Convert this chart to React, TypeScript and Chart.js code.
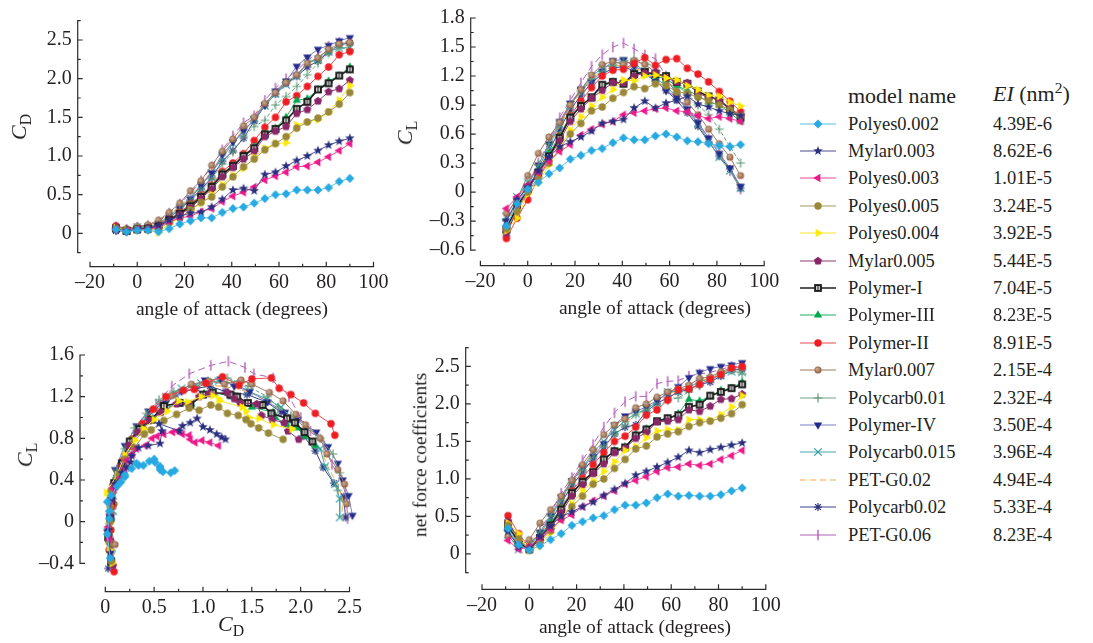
import React, { useEffect, useRef } from "react";
import { Chart, registerables } from "chart.js";

Chart.register(...registerables);

const SERIF = '"Liberation Serif", "Times New Roman", serif';
const INK = "#231F20";

// ---------------- data ----------------
const ANGLES = [-9, -4.5, 0, 4.5, 9, 13.5, 18, 22.5, 27, 31.5, 36, 40.5, 45, 49.5, 54, 58.5, 63, 67.5, 72, 76.5, 81, 85.5, 90];

const ANGLE_TICKS = [-20, 0, 20, 40, 60, 80, 100];
const CD_TICKS = [0, 0.5, 1, 1.5, 2, 2.5];
const CL_TICKS = [-0.6, -0.3, 0, 0.3, 0.6, 0.9, 1.2, 1.5, 1.8];
const POLAR_CL_TICKS = [-0.4, 0, 0.4, 0.8, 1.2, 1.6];
const POLAR_CD_TICKS = [0, 0.5, 1, 1.5, 2, 2.5];
const NET_TICKS = [0, 0.5, 1, 1.5, 2, 2.5];

const MODEL_NAMES = ["Polyes0.002", "Mylar0.003", "Polyes0.003", "Polyes0.005", "Polyes0.004", "Mylar0.005", "Polymer-I", "Polymer-III", "Polymer-II", "Mylar0.007", "Polycarb0.01", "Polymer-IV", "Polycarb0.015", "PET-G0.02", "Polycarb0.02", "PET-G0.06"];
const EI_VALUES = ["4.39E-6", "8.62E-6", "1.01E-5", "3.24E-5", "3.92E-5", "5.44E-5", "7.04E-5", "8.23E-5", "8.91E-5", "2.15E-4", "2.32E-4", "3.50E-4", "3.96E-4", "4.94E-4", "5.33E-4", "8.23E-4"];

const CD_POLYES_0002 = [0.05, 0.02, 0.04, 0.04, 0.02, 0.06, 0.12, 0.16, 0.2, 0.2, 0.27, 0.32, 0.34, 0.39, 0.45, 0.5, 0.51, 0.56, 0.56, 0.56, 0.59, 0.67, 0.71];
const CL_POLYES_0002 = [-0.35, -0.12, 0.03, 0.1, 0.19, 0.25, 0.34, 0.38, 0.43, 0.45, 0.51, 0.56, 0.54, 0.54, 0.58, 0.6, 0.57, 0.53, 0.52, 0.5, 0.48, 0.47, 0.49];
const NET_POLYES_0002 = [0.34, 0.12, 0.05, 0.11, 0.19, 0.27, 0.38, 0.43, 0.48, 0.51, 0.59, 0.65, 0.65, 0.68, 0.75, 0.8, 0.77, 0.78, 0.77, 0.77, 0.79, 0.84, 0.88];

const CD_MYLAR_0003 = [0.05, 0.03, 0.05, 0.06, 0.1, 0.17, 0.22, 0.26, 0.27, 0.34, 0.44, 0.56, 0.58, 0.55, 0.76, 0.79, 0.87, 0.94, 1.0, 1.07, 1.14, 1.19, 1.23];
const CL_MYLAR_0003 = [-0.3, -0.08, 0.05, 0.22, 0.36, 0.47, 0.52, 0.57, 0.63, 0.71, 0.73, 0.75, 0.87, 0.94, 0.87, 0.92, 0.95, 0.99, 0.91, 0.88, 0.84, 0.81, 0.79];
const NET_MYLAR_0003 = [0.3, 0.09, 0.07, 0.23, 0.37, 0.5, 0.56, 0.63, 0.69, 0.78, 0.86, 0.94, 1.05, 1.1, 1.16, 1.22, 1.29, 1.38, 1.35, 1.39, 1.42, 1.45, 1.48];

const CD_POLYES_0003 = [0.04, 0.03, 0.05, 0.05, 0.08, 0.15, 0.2, 0.22, 0.28, 0.32, 0.41, 0.48, 0.53, 0.6, 0.69, 0.74, 0.79, 0.86, 0.87, 0.92, 0.99, 1.07, 1.16];
const CL_POLYES_0003 = [-0.17, -0.05, 0.07, 0.2, 0.32, 0.42, 0.49, 0.59, 0.65, 0.7, 0.73, 0.8, 0.82, 0.84, 0.86, 0.87, 0.84, 0.83, 0.79, 0.76, 0.78, 0.76, 0.73];
const NET_POLYES_0003 = [0.18, 0.06, 0.09, 0.21, 0.33, 0.45, 0.52, 0.63, 0.71, 0.77, 0.84, 0.93, 0.98, 1.03, 1.1, 1.15, 1.16, 1.2, 1.18, 1.2, 1.26, 1.31, 1.38];

const CD_POLYES_0005 = [0.06, 0.04, 0.05, 0.05, 0.06, 0.14, 0.2, 0.3, 0.4, 0.47, 0.6, 0.73, 0.86, 0.96, 1.08, 1.16, 1.25, 1.36, 1.44, 1.49, 1.57, 1.67, 1.82];
const CL_POLYES_0005 = [-0.38, -0.2, 0.0, 0.15, 0.3, 0.45, 0.6, 0.71, 0.84, 0.88, 0.97, 1.03, 1.09, 1.07, 1.12, 1.1, 1.04, 1.02, 0.98, 0.94, 0.9, 0.85, 0.79];
const NET_POLYES_0005 = [0.38, 0.2, 0.05, 0.16, 0.31, 0.47, 0.63, 0.77, 0.93, 1.0, 1.14, 1.26, 1.4, 1.44, 1.56, 1.6, 1.63, 1.7, 1.75, 1.77, 1.81, 1.87, 1.99];

const CD_POLYES_0004 = [0.07, 0.04, 0.04, 0.04, 0.01, 0.12, 0.2, 0.3, 0.39, 0.5, 0.63, 0.75, 0.84, 0.98, 1.1, 1.16, 1.17, 1.4, 1.44, 1.47, 1.57, 1.72, 1.91];
const CL_POLYES_0004 = [-0.4, -0.27, -0.02, 0.1, 0.28, 0.45, 0.64, 0.78, 0.89, 0.98, 1.06, 1.16, 1.15, 1.2, 1.21, 1.18, 1.16, 1.1, 1.06, 1.0, 0.99, 0.93, 0.89];
const NET_POLYES_0004 = [0.41, 0.27, 0.04, 0.11, 0.28, 0.47, 0.67, 0.84, 0.97, 1.1, 1.23, 1.38, 1.43, 1.55, 1.64, 1.66, 1.65, 1.79, 1.79, 1.78, 1.86, 1.96, 2.11];

const CD_MYLAR_0005 = [0.08, 0.05, 0.05, 0.06, 0.08, 0.16, 0.24, 0.33, 0.45, 0.57, 0.73, 0.85, 0.96, 1.06, 1.25, 1.32, 1.38, 1.55, 1.6, 1.71, 1.83, 1.87, 1.98];
const CL_MYLAR_0005 = [-0.42, -0.18, 0.02, 0.2, 0.35, 0.53, 0.73, 0.86, 0.97, 1.05, 1.13, 1.13, 1.2, 1.23, 1.24, 1.18, 1.14, 1.13, 1.02, 0.98, 0.95, 0.87, 0.79];
const NET_MYLAR_0005 = [0.43, 0.19, 0.05, 0.21, 0.36, 0.55, 0.77, 0.92, 1.07, 1.2, 1.35, 1.41, 1.54, 1.62, 1.76, 1.77, 1.79, 1.92, 1.9, 1.97, 2.06, 2.07, 2.13];

const CD_POLYMER_I = [0.06, 0.03, 0.05, 0.06, 0.09, 0.17, 0.25, 0.35, 0.47, 0.6, 0.76, 0.87, 1.0, 1.1, 1.28, 1.35, 1.46, 1.61, 1.7, 1.86, 1.94, 2.04, 2.12];
const CL_POLYMER_I = [-0.38, -0.15, 0.03, 0.2, 0.37, 0.56, 0.77, 0.89, 0.98, 1.11, 1.14, 1.12, 1.22, 1.24, 1.22, 1.2, 1.14, 1.12, 1.04, 0.99, 0.95, 0.86, 0.77];
const NET_POLYMER_I = [0.38, 0.15, 0.06, 0.21, 0.38, 0.59, 0.81, 0.96, 1.09, 1.26, 1.37, 1.42, 1.58, 1.66, 1.77, 1.81, 1.85, 1.96, 1.99, 2.11, 2.16, 2.21, 2.26];

const CD_POLYMER_III = [0.06, 0.04, 0.06, 0.06, 0.1, 0.18, 0.26, 0.37, 0.48, 0.61, 0.78, 0.88, 1.01, 1.12, 1.29, 1.36, 1.5, 1.72, 1.74, 1.86, 1.97, 2.04, 2.15];
const CL_POLYMER_III = [-0.4, -0.17, 0.03, 0.22, 0.4, 0.58, 0.78, 0.9, 0.97, 1.09, 1.14, 1.13, 1.23, 1.24, 1.2, 1.17, 1.1, 1.05, 1.0, 0.93, 0.9, 0.82, 0.73];
const NET_POLYMER_III = [0.4, 0.17, 0.07, 0.23, 0.41, 0.61, 0.82, 0.97, 1.08, 1.25, 1.38, 1.43, 1.59, 1.67, 1.76, 1.8, 1.87, 2.06, 2.04, 2.1, 2.18, 2.21, 2.29];

const CD_POLYMER_II = [0.09, 0.04, 0.05, 0.07, 0.1, 0.18, 0.27, 0.38, 0.49, 0.62, 0.8, 0.91, 1.03, 1.2, 1.37, 1.5, 1.7, 1.78, 1.9, 2.03, 2.15, 2.31, 2.35];
const CL_POLYMER_II = [-0.48, -0.27, -0.08, 0.15, 0.33, 0.58, 0.79, 0.94, 1.08, 1.2, 1.26, 1.27, 1.33, 1.39, 1.31, 1.37, 1.38, 1.28, 1.22, 1.14, 1.04, 0.94, 0.83];
const NET_POLYMER_II = [0.51, 0.27, 0.09, 0.17, 0.34, 0.61, 0.84, 1.01, 1.19, 1.35, 1.5, 1.57, 1.69, 1.85, 1.92, 2.05, 2.19, 2.2, 2.26, 2.33, 2.39, 2.48, 2.5];

const CD_MYLAR_0007 = [0.1, 0.06, 0.09, 0.11, 0.17, 0.27, 0.39, 0.55, 0.68, 0.88, 1.06, 1.22, 1.39, 1.5, 1.68, 1.82, 1.95, 2.05, 2.2, 2.27, 2.38, 2.45, 2.47];
const CL_MYLAR_0007 = [-0.22, -0.08, 0.17, 0.4, 0.57, 0.72, 0.9, 1.06, 1.21, 1.32, 1.35, 1.32, 1.36, 1.32, 1.24, 1.16, 1.03, 0.93, 0.8, 0.65, 0.5, 0.36, 0.17];
const NET_MYLAR_0007 = [0.24, 0.1, 0.19, 0.41, 0.59, 0.77, 0.98, 1.19, 1.39, 1.59, 1.72, 1.8, 1.95, 2.0, 2.09, 2.16, 2.2, 2.25, 2.34, 2.36, 2.43, 2.48, 2.48];

const CD_POLYCARB_001 = [0.06, 0.04, 0.07, 0.08, 0.12, 0.2, 0.3, 0.42, 0.55, 0.7, 0.9, 1.05, 1.25, 1.38, 1.46, 1.66, 1.77, 1.9, 2.05, 2.2, 2.33, 2.4, 2.38];
const CL_POLYCARB_001 = [-0.3, -0.1, 0.08, 0.28, 0.5, 0.7, 0.9, 1.04, 1.17, 1.25, 1.3, 1.35, 1.38, 1.33, 1.3, 1.2, 1.1, 1.02, 0.9, 0.8, 0.65, 0.47, 0.3];
const NET_POLYCARB_001 = [0.31, 0.11, 0.11, 0.29, 0.51, 0.73, 0.95, 1.12, 1.29, 1.43, 1.58, 1.71, 1.86, 1.92, 1.96, 2.05, 2.08, 2.16, 2.24, 2.34, 2.42, 2.45, 2.4];

const CD_POLYMER_IV = [0.05, 0.02, 0.05, 0.07, 0.1, 0.2, 0.32, 0.44, 0.62, 0.78, 1.02, 1.18, 1.32, 1.48, 1.66, 1.84, 1.97, 2.16, 2.28, 2.38, 2.43, 2.49, 2.53];
const CL_POLYMER_IV = [-0.3, -0.1, 0.06, 0.28, 0.5, 0.73, 0.92, 1.06, 1.14, 1.25, 1.36, 1.37, 1.3, 1.25, 1.15, 1.05, 0.98, 0.86, 0.72, 0.56, 0.4, 0.25, 0.06];
const NET_POLYMER_IV = [0.3, 0.1, 0.08, 0.29, 0.51, 0.76, 0.97, 1.15, 1.3, 1.47, 1.72, 1.84, 1.9, 1.96, 2.05, 2.14, 2.23, 2.35, 2.42, 2.47, 2.5, 2.52, 2.55];

const CD_POLYCARB_0015 = [0.07, 0.04, 0.08, 0.08, 0.12, 0.22, 0.33, 0.46, 0.62, 0.78, 0.98, 1.16, 1.32, 1.47, 1.65, 1.8, 1.92, 2.03, 2.2, 2.25, 2.35, 2.4, 2.4];
const CL_POLYCARB_0015 = [-0.25, -0.05, 0.1, 0.25, 0.47, 0.7, 0.9, 1.05, 1.2, 1.28, 1.33, 1.35, 1.33, 1.25, 1.18, 1.1, 0.98, 0.85, 0.7, 0.53, 0.36, 0.22, 0.04];
const NET_POLYCARB_0015 = [0.26, 0.06, 0.13, 0.26, 0.49, 0.73, 0.96, 1.15, 1.35, 1.5, 1.65, 1.78, 1.87, 1.93, 2.03, 2.16, 2.17, 2.22, 2.3, 2.33, 2.38, 2.43, 2.42];

const CD_PETG_002 = [0.08, 0.05, 0.06, 0.08, 0.13, 0.23, 0.35, 0.47, 0.63, 0.8, 1.0, 1.18, 1.34, 1.48, 1.66, 1.83, 1.95, 2.05, 2.2, 2.28, 2.36, 2.43, 2.42];
const CL_PETG_002 = [-0.33, -0.12, 0.05, 0.24, 0.45, 0.68, 0.88, 1.03, 1.16, 1.27, 1.32, 1.3, 1.28, 1.24, 1.16, 1.08, 0.97, 0.84, 0.7, 0.53, 0.38, 0.23, 0.02];
const NET_PETG_002 = [0.34, 0.13, 0.08, 0.25, 0.47, 0.72, 0.95, 1.13, 1.32, 1.5, 1.66, 1.76, 1.85, 1.93, 2.03, 2.13, 2.18, 2.22, 2.31, 2.34, 2.39, 2.44, 2.42];

const CD_POLYCARB_002 = [0.03, 0.03, 0.06, 0.07, 0.11, 0.2, 0.31, 0.43, 0.57, 0.72, 0.93, 1.07, 1.23, 1.45, 1.65, 1.8, 1.94, 2.03, 2.15, 2.23, 2.34, 2.44, 2.46];
const CL_POLYCARB_002 = [-0.45, -0.17, 0.03, 0.22, 0.42, 0.65, 0.85, 1.0, 1.13, 1.22, 1.28, 1.3, 1.25, 1.22, 1.15, 1.05, 0.95, 0.82, 0.68, 0.52, 0.37, 0.24, 0.04];
const NET_POLYCARB_002 = [0.45, 0.17, 0.07, 0.23, 0.43, 0.68, 0.91, 1.09, 1.27, 1.42, 1.6, 1.69, 1.72, 1.9, 2.01, 2.08, 2.16, 2.19, 2.26, 2.29, 2.37, 2.45, 2.46];

const CD_PETG_006 = [0.08, 0.05, 0.08, 0.1, 0.15, 0.26, 0.38, 0.52, 0.68, 0.86, 1.08, 1.26, 1.43, 1.52, 1.72, 1.88, 2.0, 2.1, 2.24, 2.32, 2.42, 2.47, 2.48];
const CL_PETG_006 = [-0.35, -0.12, 0.08, 0.3, 0.52, 0.77, 0.95, 1.13, 1.3, 1.42, 1.5, 1.54, 1.48, 1.42, 1.38, 1.2, 1.0, 0.87, 0.73, 0.55, 0.4, 0.22, 0.03];
const NET_PETG_006 = [0.36, 0.13, 0.11, 0.32, 0.54, 0.81, 1.02, 1.25, 1.46, 1.69, 1.88, 2.03, 2.1, 2.1, 2.27, 2.3, 2.31, 2.37, 2.4, 2.42, 2.46, 2.5, 2.5];

const CD_SERIES = [CD_POLYES_0002, CD_MYLAR_0003, CD_POLYES_0003, CD_POLYES_0005, CD_POLYES_0004, CD_MYLAR_0005, CD_POLYMER_I, CD_POLYMER_III, CD_POLYMER_II, CD_MYLAR_0007, CD_POLYCARB_001, CD_POLYMER_IV, CD_POLYCARB_0015, CD_PETG_002, CD_POLYCARB_002, CD_PETG_006];
const CL_SERIES = [CL_POLYES_0002, CL_MYLAR_0003, CL_POLYES_0003, CL_POLYES_0005, CL_POLYES_0004, CL_MYLAR_0005, CL_POLYMER_I, CL_POLYMER_III, CL_POLYMER_II, CL_MYLAR_0007, CL_POLYCARB_001, CL_POLYMER_IV, CL_POLYCARB_0015, CL_PETG_002, CL_POLYCARB_002, CL_PETG_006];
const NET_SERIES = [NET_POLYES_0002, NET_MYLAR_0003, NET_POLYES_0003, NET_POLYES_0005, NET_POLYES_0004, NET_MYLAR_0005, NET_POLYMER_I, NET_POLYMER_III, NET_POLYMER_II, NET_MYLAR_0007, NET_POLYCARB_001, NET_POLYMER_IV, NET_POLYCARB_0015, NET_PETG_002, NET_POLYCARB_002, NET_PETG_006];

// ---------------- styles ----------------
type Style = { marker: string; fill: string; line: string; dash: number[]; legendDash: boolean; width?: number };
const STYLES: Style[] = [
  { marker: "diamond", fill: "#27A9E1", line: "#5BC0EB", dash: [], legendDash: false },
  { marker: "star", fill: "#2B2F7F", line: "#4A4D8F", dash: [], legendDash: false },
  { marker: "triL", fill: "#EC198B", line: "#EF4A9B", dash: [], legendDash: false },
  { marker: "circle", fill: "#9A8838", line: "#A89A5A", dash: [], legendDash: false },
  { marker: "triR", fill: "#FFEA00", line: "#F8E530", dash: [], legendDash: false },
  { marker: "pentagon", fill: "#8A2768", line: "#8F3A72", dash: [], legendDash: false },
  { marker: "squareI", fill: "#1E1E1E", line: "#1E1E1E", dash: [], legendDash: false, width: 1.6 },
  { marker: "triU", fill: "#00A650", line: "#21B062", dash: [], legendDash: false },
  { marker: "circle", fill: "#EE1D24", line: "#F0474C", dash: [], legendDash: false },
  { marker: "ball", fill: "#8A5A3B", line: "#A07860", dash: [], legendDash: false },
  { marker: "plus", fill: "#5A9A74", line: "#6FA386", dash: [4, 2], legendDash: false },
  { marker: "triD", fill: "#252C8C", line: "#7B7EC6", dash: [], legendDash: false },
  { marker: "cross", fill: "#2A9C9A", line: "#45A8A6", dash: [], legendDash: false },
  { marker: "none", fill: "#F7A94B", line: "#F7A94B", dash: [6, 3], legendDash: true },
  { marker: "asterisk", fill: "#2D2F7D", line: "#3E4089", dash: [], legendDash: false },
  { marker: "bar", fill: "#B260B6", line: "#B260B6", dash: [7, 4], legendDash: false },
];

function drawMarker(ctx: CanvasRenderingContext2D, type: string, color: string, cx: number, cy: number) {
  const r = 3.7;
  ctx.save();
  ctx.fillStyle = color;
  ctx.strokeStyle = color;
  ctx.lineWidth = 1.2;
  const poly = (angles: number[], R: number) => {
    ctx.beginPath();
    angles.forEach((a, i) => {
      const t = (a * Math.PI) / 180;
      const x = cx + R * Math.cos(t);
      const y = cy + R * Math.sin(t);
      if (i === 0) ctx.moveTo(x, y);
      else ctx.lineTo(x, y);
    });
    ctx.closePath();
    ctx.fill();
  };
  switch (type) {
    case "diamond":
      poly([-90, 0, 90, 180], r * 1.2);
      break;
    case "star": {
      ctx.beginPath();
      for (let i = 0; i < 10; i++) {
        const R = i % 2 === 0 ? r * 1.35 : r * 0.55;
        const t = ((-90 + i * 36) * Math.PI) / 180;
        const x = cx + R * Math.cos(t);
        const y = cy + R * Math.sin(t);
        if (i === 0) ctx.moveTo(x, y);
        else ctx.lineTo(x, y);
      }
      ctx.closePath();
      ctx.fill();
      break;
    }
    case "triU":
      poly([-90, 30, 150], r * 1.3);
      break;
    case "triD":
      poly([90, 210, 330], r * 1.3);
      break;
    case "triL":
      poly([180, 300, 60], r * 1.3);
      break;
    case "triR":
      poly([0, 120, 240], r * 1.3);
      break;
    case "pentagon":
      poly([-90, -18, 54, 126, 198], r * 1.15);
      break;
    case "circle":
      ctx.beginPath();
      ctx.arc(cx, cy, r, 0, Math.PI * 2);
      ctx.fill();
      break;
    case "ball": {
      const g = ctx.createRadialGradient(cx - 1, cy - 1, 0.5, cx, cy, r);
      g.addColorStop(0, "#C9A88E");
      g.addColorStop(1, color);
      ctx.fillStyle = g;
      ctx.beginPath();
      ctx.arc(cx, cy, r * 0.95, 0, Math.PI * 2);
      ctx.fill();
      break;
    }
    case "squareI": {
      const s = r * 1.05;
      ctx.fillRect(cx - s, cy - s, 2 * s, 2 * s);
      ctx.fillStyle = "#D8D8D8";
      ctx.fillRect(cx - s * 0.5, cy - s * 0.5, s, s);
      ctx.fillStyle = color;
      ctx.fillRect(cx - 0.5, cy - s * 0.5, 1, s);
      break;
    }
    case "plus":
      ctx.beginPath();
      ctx.moveTo(cx - r * 1.2, cy);
      ctx.lineTo(cx + r * 1.2, cy);
      ctx.moveTo(cx, cy - r * 1.2);
      ctx.lineTo(cx, cy + r * 1.2);
      ctx.stroke();
      break;
    case "cross":
      ctx.beginPath();
      ctx.moveTo(cx - r, cy - r);
      ctx.lineTo(cx + r, cy + r);
      ctx.moveTo(cx + r, cy - r);
      ctx.lineTo(cx - r, cy + r);
      ctx.stroke();
      break;
    case "asterisk":
      ctx.beginPath();
      for (let i = 0; i < 4; i++) {
        const t = (i * 45 * Math.PI) / 180;
        ctx.moveTo(cx - r * 1.1 * Math.cos(t), cy - r * 1.1 * Math.sin(t));
        ctx.lineTo(cx + r * 1.1 * Math.cos(t), cy + r * 1.1 * Math.sin(t));
      }
      ctx.stroke();
      break;
    case "bar":
      ctx.lineWidth = 1.4;
      ctx.beginPath();
      ctx.moveTo(cx, cy - r * 1.4);
      ctx.lineTo(cx, cy + r * 1.4);
      ctx.stroke();
      break;
    default:
      break;
  }
  ctx.restore();
}

let markerCache: (HTMLCanvasElement | null)[] | null = null;
function getMarkers() {
  if (markerCache) return markerCache;
  markerCache = STYLES.map((st) => {
    if (st.marker === "none") return null;
    const c = document.createElement("canvas");
    c.width = 14;
    c.height = 14;
    const ctx = c.getContext("2d")!;
    drawMarker(ctx, st.marker, st.fill, 7, 7);
    return c;
  });
  return markerCache;
}

// ---------------- layout of the four panels ----------------
type Panel = {
  box: [number, number, number, number];
  xs: number[][] | null; // null => angles
  ys: number[][];
  xCal: [number, number, number, number];
  yCal: [number, number, number, number];
  area: [number, number, number, number]; // l, r, t, b (page px)
  xAxis: [number, number, number];
  yAxis: [number, number, number];
  xTicks: number[];
  yTicks: number[];
  xDec: boolean;
};

const PANELS: Panel[] = [
  {
    box: [0, 0, 400, 330], xs: null, ys: CD_SERIES,
    xCal: [-20, 90, 100, 373.5], yCal: [0, 233.3, 2.5, 40],
    area: [77.7, 373.5, 20.7, 266.7], xAxis: [-20, 100, 10], yAxis: [-0.25, 2.75, 0.25],
    xTicks: ANGLE_TICKS, yTicks: CD_TICKS, xDec: false,
  },
  {
    box: [400, 0, 390, 330], xs: null, ys: CL_SERIES,
    xCal: [-20, 480.4, 100, 764.2], yCal: [-0.6, 250, 1.8, 16.7],
    area: [470.7, 764.2, 16.7, 265.7], xAxis: [-20, 100, 10], yAxis: [-0.6, 1.8, 0.15],
    xTicks: ANGLE_TICKS, yTicks: CL_TICKS, xDec: false,
  },
  {
    box: [0, 330, 400, 313], xs: CD_SERIES, ys: CL_SERIES,
    xCal: [0, 105.3, 2.5, 349.5], yCal: [-0.4, 563.3, 1.6, 355],
    area: [80, 351.7, 353, 591.7], xAxis: [0, 2.5, 0.25], yAxis: [-0.4, 1.6, 0.2],
    xTicks: POLAR_CD_TICKS, yTicks: POLAR_CL_TICKS, xDec: true,
  },
  {
    box: [400, 330, 390, 313], xs: null, ys: NET_SERIES,
    xCal: [-20, 482, 100, 765.8], yCal: [0, 552.7, 2.5, 359],
    area: [465.7, 765.8, 340, 589.3], xAxis: [-20, 100, 10], yAxis: [-0.25, 2.75, 0.25],
    xTicks: ANGLE_TICKS, yTicks: NET_TICKS, xDec: false,
  },
];

const fmtInt = (v: number) => (v < 0 ? "\u2013" + Math.abs(v) : String(v));
const fmtDec = (v: number) => (Math.abs(v) < 1e-9 ? "0" : (v < 0 ? "\u2013" : "") + Math.abs(v).toFixed(1));

const lin = (c: [number, number, number, number], p: number) => c[0] + ((p - c[1]) * (c[2] - c[0])) / (c[3] - c[1]);

const detachedAxes = {
  id: "detachedAxes",
  beforeDatasetsDraw(chart: any, _args: any, opts: any) {
    const { ctx, chartArea, scales } = chart;
    const xs = scales.x;
    const ys = scales.y;
    const xb = chartArea.bottom;
    const yl = chartArea.left;
    ctx.save();
    ctx.strokeStyle = "#2B2B2B";
    ctx.lineWidth = 1.2;
    ctx.beginPath();
    const [xf, xt, xm] = opts.x;
    const [yf, yt, ym] = opts.y;
    ctx.moveTo(xs.getPixelForValue(xf) - 0.6, xb);
    ctx.lineTo(xs.getPixelForValue(xt) + 0.6, xb);
    ctx.moveTo(yl, ys.getPixelForValue(yf) + 0.6);
    ctx.lineTo(yl, ys.getPixelForValue(yt) - 0.6);
    const nx = Math.round((xt - xf) / xm);
    for (let i = 0; i <= nx; i++) {
      const v = xf + i * xm;
      const major = opts.xMajor.some((m: number) => Math.abs(m - v) < 1e-6);
      const p = xs.getPixelForValue(v);
      ctx.moveTo(p, xb);
      ctx.lineTo(p, xb - (major ? 5 : 3));
    }
    const ny = Math.round((yt - yf) / ym);
    for (let i = 0; i <= ny; i++) {
      const v = yf + i * ym;
      const major = opts.yMajor.some((m: number) => Math.abs(m - v) < 1e-6);
      const p = ys.getPixelForValue(v);
      ctx.moveTo(yl, p);
      ctx.lineTo(yl + (major ? 5 : 3), p);
    }
    ctx.stroke();
    ctx.restore();
  },
};

function buildConfig(p: Panel): any {
  const markers = getMarkers();
  const [bl, bt, bw, bh] = p.box;
  const [al, ar, at, ab] = p.area;
  const datasets = p.ys.map((ys, i) => {
    const st = STYLES[i];
    const xs = p.xs ? p.xs[i] : ANGLES;
    return {
      label: MODEL_NAMES[i],
      data: xs.map((x, j) => ({ x, y: ys[j] })),
      showLine: true,
      borderColor: st.line,
      backgroundColor: st.fill,
      borderWidth: st.width ?? 1,
      borderDash: st.dash,
      pointStyle: markers[i] || false,
      pointRadius: markers[i] ? 3.5 : 0,
      clip: false,
    };
  });
  const tickFont = { family: SERIF, size: 20 };
  return {
    type: "scatter",
    data: { datasets },
    plugins: [detachedAxes],
    options: {
      responsive: false,
      animation: false,
      events: [],
      layout: { padding: { left: 0, top: at - bt, right: bl + bw - ar, bottom: 0 } },
      plugins: {
        legend: { display: false },
        tooltip: { enabled: false },
        detachedAxes: { x: p.xAxis, y: p.yAxis, xMajor: p.xTicks, yMajor: p.yTicks },
      },
      scales: {
        x: {
          type: "linear",
          min: lin(p.xCal, al),
          max: lin(p.xCal, ar),
          grid: { display: false, drawTicks: false },
          border: { display: false },
          afterBuildTicks: (a: any) => {
            a.ticks = p.xTicks.map((v) => ({ value: v }));
          },
          afterFit: (a: any) => {
            a.height = bt + bh - ab;
          },
          ticks: {
            padding: 4,
            font: tickFont,
            color: INK,
            autoSkip: false,
            maxRotation: 0,
            minRotation: 0,
            callback: (v: number) => (p.xDec ? fmtDec(v) : fmtInt(v)),
          },
        },
        y: {
          type: "linear",
          min: lin(p.yCal, ab),
          max: lin(p.yCal, at),
          grid: { display: false, drawTicks: false },
          border: { display: false },
          afterBuildTicks: (a: any) => {
            a.ticks = p.yTicks.map((v) => ({ value: v }));
          },
          afterFit: (a: any) => {
            a.width = al - bl;
          },
          ticks: {
            padding: 6,
            font: tickFont,
            color: INK,
            autoSkip: false,
            callback: (v: number) => fmtDec(v),
          },
        },
      },
    },
  };
}

function PanelChart({ panel }: { panel: Panel }) {
  const ref = useRef<HTMLCanvasElement>(null);
  useEffect(() => {
    const chart = new Chart(ref.current!, buildConfig(panel));
    return () => chart.destroy();
  }, [panel]);
  const [l, t, w, h] = panel.box;
  return (
    <div style={{ position: "absolute", left: l, top: t, width: w, height: h }}>
      <canvas ref={ref} width={w} height={h} style={{ width: w, height: h, display: "block" }} />
    </div>
  );
}

function Swatch({ index, top }: { index: number; top: number }) {
  const ref = useRef<HTMLCanvasElement>(null);
  useEffect(() => {
    const c = ref.current!;
    const ctx = c.getContext("2d")!;
    ctx.clearRect(0, 0, c.width, c.height);
    const st = STYLES[index];
    ctx.strokeStyle = st.line;
    ctx.lineWidth = st.width ?? 1.2;
    ctx.setLineDash(st.legendDash ? [6, 4] : []);
    ctx.beginPath();
    ctx.moveTo(4, 10);
    ctx.lineTo(40, 10);
    ctx.stroke();
    ctx.setLineDash([]);
    if (st.marker !== "none") drawMarker(ctx, st.marker, st.fill, 22, 10);
  }, [index]);
  return <canvas ref={ref} width={44} height={20} style={{ position: "absolute", left: 796, top: top - 10, width: 44, height: 20 }} />;
}

const titleBase: React.CSSProperties = {
  position: "absolute",
  fontFamily: SERIF,
  color: INK,
  whiteSpace: "nowrap",
  lineHeight: 1,
};

function Title({ x, y, rotate, size, children }: { x: number; y: number; rotate?: boolean; size: number; children: React.ReactNode }) {
  return (
    <div
      style={{
        ...titleBase,
        left: x,
        top: y,
        fontSize: size,
        transform: `translate(-50%, -50%)${rotate ? " rotate(-90deg)" : ""}`,
      }}
    >
      {children}
    </div>
  );
}

const sub: React.CSSProperties = { fontSize: "0.72em", verticalAlign: "-0.32em", lineHeight: 0, fontStyle: "normal" };

export default function App() {
  const rowTop = 123.5;
  const rowStep = 27.4;
  return (
    <div style={{ position: "absolute", left: 0, top: 0, width: 1093, height: 643, background: "#fff", overflow: "hidden" }}>
      {PANELS.map((p, i) => (
        <PanelChart key={i} panel={p} />
      ))}

      <Title x={19} y={127} rotate size={22}>
        <i>C</i>
        <span style={sub}>D</span>
      </Title>
      <Title x={405} y={133} rotate size={22}>
        <i>C</i>
        <span style={sub}>L</span>
      </Title>
      <Title x={25} y={455} rotate size={22}>
        <i>C</i>
        <span style={sub}>L</span>
      </Title>
      <Title x={231} y={624} size={22}>
        <i>C</i>
        <span style={sub}>D</span>
      </Title>
      <Title x={420} y={455} rotate size={19.5}>
        net force coefficients
      </Title>
      <Title x={232} y={309} size={19.5}>
        angle of attack (degrees)
      </Title>
      <Title x={655} y={308} size={19.5}>
        angle of attack (degrees)
      </Title>
      <Title x={635} y={627} size={19.5}>
        angle of attack (degrees)
      </Title>

      <div style={{ ...titleBase, left: 848, top: 96, fontSize: 22, transform: "translateY(-50%)" }}>model name</div>
      <div style={{ ...titleBase, left: 993, top: 94, fontSize: 22, transform: "translateY(-50%)" }}>
        <i>EI</i> (nm<sup style={{ fontSize: "0.7em", verticalAlign: "0.55em", lineHeight: 0 }}>2</sup>)
      </div>

      {MODEL_NAMES.map((name, i) => {
        const cy = rowTop + i * rowStep;
        return (
          <React.Fragment key={name}>
            <Swatch index={i} top={cy} />
            <div style={{ ...titleBase, left: 848, top: cy, fontSize: 18.5, transform: "translateY(-50%)" }}>{name}</div>
            <div style={{ ...titleBase, left: 993, top: cy, fontSize: 18.5, transform: "translateY(-50%)" }}>{EI_VALUES[i]}</div>
          </React.Fragment>
        );
      })}
    </div>
  );
}
